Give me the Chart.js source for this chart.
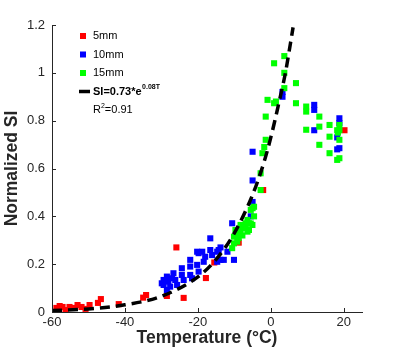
<!DOCTYPE html>
<html lang="en">
<head>
<meta charset="UTF-8" />
<title>Normalized SI vs Temperature</title>
<script src="https://cdn.jsdelivr.net/npm/chart.js"></script>
<style>
  html, body { margin: 0; padding: 0; background: #fff; }
  #wrap { width: 400px; height: 350px; }
</style>
</head>
<body>
<div id="wrap"><canvas id="siChart" width="400" height="350"></canvas></div>
<script>
  // 5 mm samples (temperature in °C, normalized SI)
  const temp5 = [-58.8, -57.9, -57.1, -56.3, -55.2, -53.8, -53, -51.9, -50.8, -49.7, -47.4, -46.6,
                 -41.7, -35, -34.2, -28.5, -25.9, -23.9, -17.8, -15.5, -8.8, -2.1, 20.2];
  const si5 = [0.017, 0.025, 0.021, 0.008, 0.021, 0.017, 0.029, 0.021, 0.013, 0.029, 0.038, 0.054,
               0.033, 0.06, 0.071, 0.067, 0.27, 0.059, 0.142, 0.207, 0.29, 0.51, 0.76];

  // 10 mm samples
  const temp10 = [-29.9, -29.4, -29.4, -28.5, -28.5, -28.1, -27.6, -27.1, -26.7, -26.2, -25.7, -24.4, -24.4, -23.9,
                  -22.1, -22.1, -22.1, -21.6, -20.2, -20.2, -19.8, -19.8, -18.8, -18.4, -18, -16.6, -16.6, -16.1,
                  -14.7, -14.7, -14.3, -13.8, -13.8, -12.9, -11.9, -10.6, -10.1, -5.5, -5, -5, -5,
                  3.2, 3.2, 11.9, 11.9, 11.9, 18.8, 18.8, 18.2, 18.8, 18.2];
  const si10 = [0.12, 0.134, 0.113, 0.148, 0.092, 0.127, 0.106, 0.141, 0.162, 0.134, 0.113, 0.183, 0.155, 0.134,
                0.218, 0.19, 0.155, 0.141, 0.197, 0.252, 0.246, 0.169, 0.252, 0.21, 0.231, 0.259, 0.308, 0.238,
                0.252, 0.21, 0.259, 0.218, 0.27, 0.218, 0.252, 0.371, 0.218, 0.40, 0.46, 0.55, 0.67,
                0.90, 0.92, 0.866, 0.845, 0.76, 0.81, 0.79, 0.73, 0.685, 0.68];

  // 15 mm samples
  const temp15 = [-10.6, -10.1, -10.1, -9.7, -9.2, -9.2, -8.8, -8.3, -8.3, -7.8, -7.4, -6.9, -6.9, -6.4, -6.4, -6, -6,
                  -5.5, -5.5, -5.05, -5, -4.6, -4.6, -2.8, -2.8, -2.3, -1.8, -1.4, -1.4, -0.9,
                  0.9, 1.4, 0.9, 3.7, 3.7, 3.7, 6.9, 6.9, 9.7, 9.7, 9.7, 13.3, 13.3, 13.3,
                  16.1, 16.1, 16.1, 18.8, 18.8, 18.8, 18.2, 18.2, 18.8, 18.4];
  const si15 = [0.267, 0.287, 0.315, 0.343, 0.329, 0.294, 0.31, 0.343, 0.364, 0.32, 0.35, 0.357, 0.371, 0.385, 0.336, 0.343, 0.371,
                0.37, 0.427, 0.364, 0.434, 0.40, 0.44, 0.51, 0.58, 0.664, 0.69, 0.72, 0.817, 0.887,
                0.873, 0.88, 1.04, 1.07, 1.0, 0.936, 0.957, 0.873, 0.859, 0.838, 0.762, 0.817, 0.775, 0.699,
                0.782, 0.733, 0.664, 0.782, 0.76, 0.72, 0.76, 0.636, 0.643, 0.75];

  // exponential fit
  const fitTemp = [-60, -50, -40, -30, -20, -15, -10, -5, -2, 0, 2, 4, 6.1];
  const fitSI = [0.006, 0.013, 0.03, 0.066, 0.147, 0.22, 0.33, 0.49, 0.62, 0.73, 0.86, 1.0, 1.19];

  const xTicks = [-60, -40, -20, 0, 20];
  const yTicks = [0, 0.2, 0.4, 0.6, 0.8, 1, 1.2];

  const seriesNames = ['5mm', '10mm', '15mm'];
  const seriesColors = ['#ff0000', '#0000ff', '#00ff00'];
  const fitLabel = 'SI=0.73*e';
  const fitExp = '0.08T';
  const r2Parts = ['R', '2', '=0.91'];

  const axisColor = '#262626';
  const fontFamily = '"Liberation Sans", Arial, Helvetica, sans-serif';

  const toXY = (xs, ys) => xs.map((x, i) => ({ x, y: ys[i] }));

  // MATLAB-style tick marks pointing into the plot
  const innerTicks = {
    id: 'innerTicks',
    afterDraw(chart) {
      const { ctx, chartArea, scales } = chart;
      ctx.save();
      ctx.strokeStyle = axisColor;
      ctx.lineWidth = 1;
      ctx.beginPath();
      xTicks.forEach(v => {
        const px = Math.round(scales.x.getPixelForValue(v)) + 0.5;
        ctx.moveTo(px, chartArea.bottom);
        ctx.lineTo(px, chartArea.bottom - 4);
      });
      yTicks.forEach(v => {
        const py = Math.round(scales.y.getPixelForValue(v)) + 0.5;
        ctx.moveTo(chartArea.left, py);
        ctx.lineTo(chartArea.left + 4, py);
      });
      ctx.stroke();
      ctx.restore();
    }
  };

  // legend in the upper-left corner, with superscripts
  const cornerLegend = {
    id: 'cornerLegend',
    afterDraw(chart) {
      const { ctx, chartArea } = chart;
      const mx = chartArea.left + 31;
      const tx = chartArea.left + 41;
      const y0 = chartArea.top + 11;
      const step = 18.5;
      ctx.save();
      ctx.textBaseline = 'middle';
      ctx.textAlign = 'left';
      ctx.font = '11px ' + fontFamily;
      seriesNames.forEach((name, i) => {
        const cy = y0 + i * step;
        ctx.fillStyle = seriesColors[i];
        ctx.fillRect(mx - 3, cy - 3, 6, 6);
        ctx.fillStyle = '#000';
        ctx.fillText(name, tx, cy);
      });

      let cy = y0 + 3 * step;
      ctx.strokeStyle = '#000';
      ctx.lineWidth = 3.5;
      ctx.beginPath();
      ctx.moveTo(mx - 4, cy);
      ctx.lineTo(mx + 7, cy);
      ctx.stroke();
      ctx.font = 'bold 11px ' + fontFamily;
      ctx.fillText(fitLabel, tx, cy);
      let w = ctx.measureText(fitLabel).width;
      ctx.font = 'bold 7px ' + fontFamily;
      ctx.fillText(fitExp, tx + w + 0.5, cy - 4);

      cy = y0 + 4 * step;
      ctx.font = '11px ' + fontFamily;
      ctx.fillText(r2Parts[0], tx, cy);
      w = ctx.measureText(r2Parts[0]).width;
      ctx.font = '7px ' + fontFamily;
      ctx.fillText(r2Parts[1], tx + w, cy - 4);
      w += ctx.measureText(r2Parts[1]).width;
      ctx.font = '11px ' + fontFamily;
      ctx.fillText(r2Parts[2], tx + w, cy);
      ctx.restore();
    }
  };

  const pointSet = (name, xs, ys, color, order) => ({
    type: 'scatter',
    label: name,
    data: toXY(xs, ys),
    pointStyle: 'rect',
    pointRadius: 4.3,
    pointBorderWidth: 0,
    backgroundColor: color,
    borderColor: color,
    order
  });

  new Chart(document.getElementById('siChart'), {
    type: 'scatter',
    data: {
      datasets: [
        {
          type: 'scatter',
          label: 'fit',
          data: toXY(fitTemp, fitSI),
          showLine: true,
          pointRadius: 0,
          borderColor: '#000',
          borderWidth: 3.5,
          borderDash: [10, 6],
          cubicInterpolationMode: 'monotone',
          order: 0
        },
        pointSet(seriesNames[2], temp15, si15, seriesColors[2], 1),
        pointSet(seriesNames[1], temp10, si10, seriesColors[1], 2),
        pointSet(seriesNames[0], temp5, si5, seriesColors[0], 3)
      ]
    },
    options: {
      responsive: false,
      animation: false,
      layout: { padding: { top: 25, right: 38, left: 0, bottom: 0 } },
      plugins: {
        legend: { display: false },
        tooltip: { enabled: false }
      },
      scales: {
        x: {
          type: 'linear',
          min: -60,
          max: 25,
          afterBuildTicks: s => { s.ticks = xTicks.map(v => ({ value: v })); },
          afterFit: s => { s.height = 38; },
          grid: { display: false, drawTicks: false },
          border: { display: true, color: axisColor, width: 1 },
          ticks: {
            padding: 3,
            color: axisColor,
            font: { family: fontFamily, size: 13 },
            callback: v => String(v)
          },
          title: {
            display: true,
            text: 'Temperature (°C)',
            color: axisColor,
            font: { family: fontFamily, size: 17.5, weight: 'bold' },
            padding: { top: 0, bottom: 1 }
          }
        },
        y: {
          type: 'linear',
          min: 0,
          max: 1.2,
          afterBuildTicks: s => { s.ticks = yTicks.map(v => ({ value: v })); },
          afterFit: s => { s.width = 52; },
          grid: { display: false, drawTicks: false },
          border: { display: true, color: axisColor, width: 1 },
          ticks: {
            padding: 7,
            color: axisColor,
            font: { family: fontFamily, size: 13 },
            callback: v => String(v)
          },
          title: {
            display: true,
            text: 'Normalized SI',
            color: axisColor,
            font: { family: fontFamily, size: 17.5, weight: 'bold' },
            padding: { top: 2, bottom: 0 }
          }
        }
      }
    },
    plugins: [innerTicks, cornerLegend]
  });
</script>
</body>
</html>
